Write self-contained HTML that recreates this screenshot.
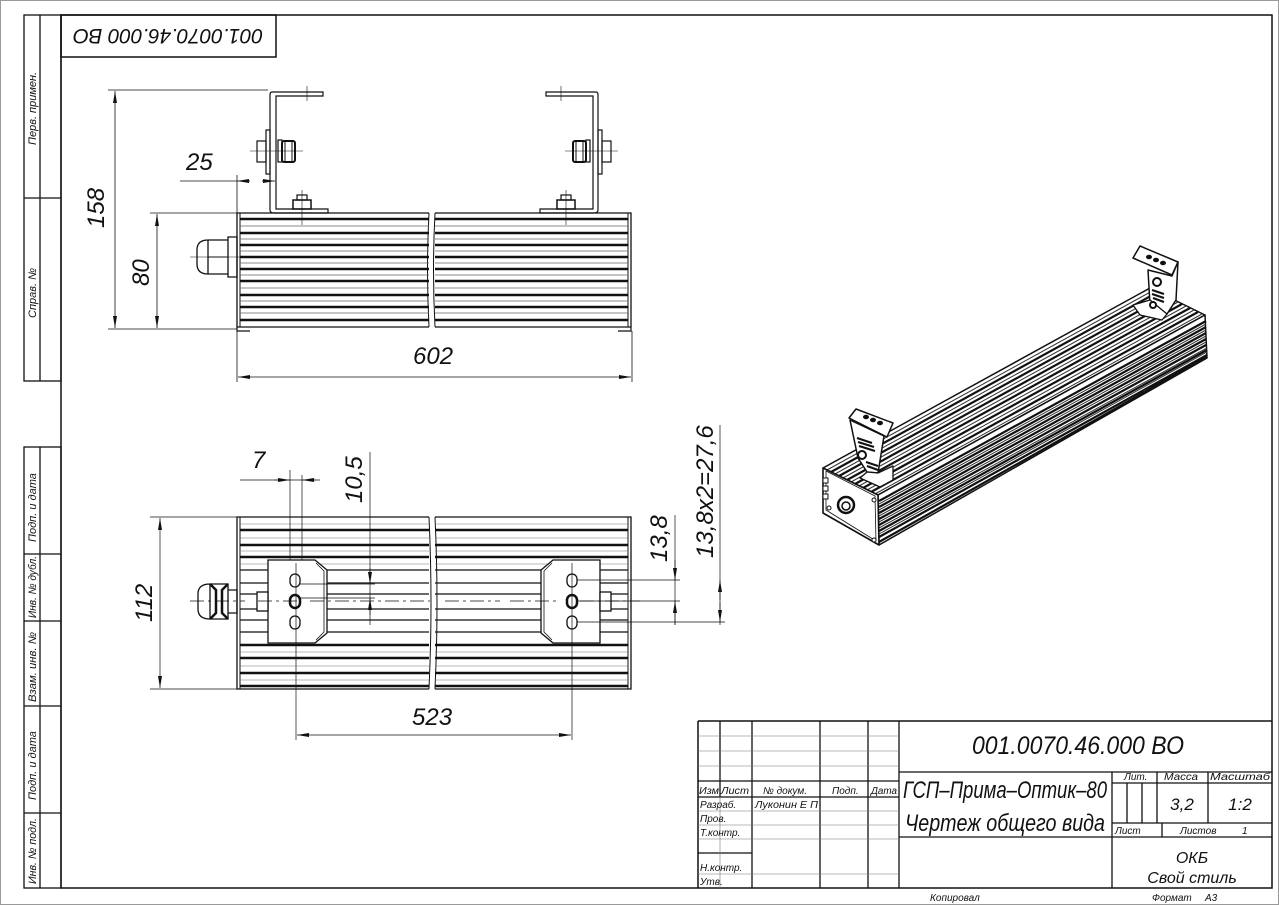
<!DOCTYPE html>
<html><head><meta charset="utf-8"><style>
html,body{margin:0;padding:0;background:#fff;}
svg{display:block;}
text{font-family:"Liberation Sans","DejaVu Sans",sans-serif;font-style:italic;fill:#111;}
</style></head><body>
<svg width="1279" height="905" viewBox="0 0 1279 905" xmlns="http://www.w3.org/2000/svg">
<defs>
<marker id="a" viewBox="0 0 12 4" refX="12" refY="2" markerWidth="12" markerHeight="4" orient="auto-start-reverse" markerUnits="userSpaceOnUse"><path d="M0,0 L12,2 L0,4 z" fill="#111"/></marker>
</defs>
<rect x="0.5" y="0.5" width="1278" height="904" fill="none" stroke="#999" stroke-width="1"/>
<rect x="61" y="15" width="1211" height="873" fill="none" stroke="#111" stroke-width="1.5"/>
<rect x="61" y="15" width="215" height="42" fill="none" stroke="#111" stroke-width="1.5"/>
<text x="168" y="36" font-size="21" text-anchor="middle" transform="rotate(180 168 36)" dy="7" textLength="190" lengthAdjust="spacingAndGlyphs">001.0070.46.000 ВО</text>
<g fill="none" stroke="#111" stroke-width="1.3">
<rect x="24" y="15" width="37" height="366"/><line x1="40" y1="15" x2="40" y2="381"/><line x1="24" y1="198" x2="61" y2="198"/>
<rect x="24" y="447" width="37" height="441"/><line x1="40" y1="447" x2="40" y2="888"/>
<line x1="24" y1="554" x2="61" y2="554"/><line x1="24" y1="621" x2="61" y2="621"/><line x1="24" y1="706" x2="61" y2="706"/><line x1="24" y1="813" x2="61" y2="813"/>
</g>
<g font-size="11">
<text transform="translate(36 145) rotate(-90)">Перв. примен.</text>
<text transform="translate(36 318) rotate(-90)">Справ. №</text>
<text transform="translate(36 542) rotate(-90)">Подп. и дата</text>
<text transform="translate(36 618) rotate(-90)" textLength="62" lengthAdjust="spacingAndGlyphs">Инв. № дубл.</text>
<text transform="translate(36 702) rotate(-90)" textLength="70" lengthAdjust="spacingAndGlyphs">Взам. инв. №</text>
<text transform="translate(36 800) rotate(-90)">Подп. и дата</text>
<text transform="translate(36 884) rotate(-90)" textLength="66" lengthAdjust="spacingAndGlyphs">Инв. № подл.</text>
</g>

<!-- ===== Top (side) view ===== -->
<g stroke="#111" fill="none">
<path d="M429,213 H237 V327 H429 M435,213 H631 V327 H435" stroke-width="1.3"/>
<path d="M429,213 q-3,57 0,114 M435,213 q-3,57 0,114" stroke-width="1"/>
<line x1="240" y1="213" x2="240" y2="327" stroke-width="1"/><line x1="628" y1="213" x2="628" y2="327" stroke-width="1"/>
<g stroke-width="2.6">
<path d="M240,219H429M435,219H628M240,233H429M435,233H628M240,245H429M435,245H628M240,257H429M435,257H628M240,269H429M435,269H628M240,281H429M435,281H628M240,295H429M435,295H628M240,307H429M435,307H628M240,320H429M435,320H628"/>
</g>
<g stroke-width="0.7" stroke="#666">
<path d="M240,226H429M435,226H628M240,239H429M435,239H628M240,251H429M435,251H628M240,263H429M435,263H628M240,275H429M435,275H628M240,288H429M435,288H628M240,301H429M435,301H628M240,313H429M435,313H628"/>
</g>
<path d="M237,327 v4 h13 M618,331 h13 v-4" stroke-width="1.2"/>
<path d="M228,237 h9 v40 h-9 z M208,240 h20 v34 h-20 z M208,240 q-11,0 -11,10 v14 q0,10 11,10" stroke-width="1.3"/>
<line x1="208" y1="257" x2="228" y2="257" stroke-width="1"/>
<line x1="190" y1="257" x2="245" y2="257" stroke-width="0.6"/>
<path d="M323,92 H272 Q270,92 270,95 V210 Q270,213 274,213 H328 V209 H276 V96 H323 Z" stroke-width="1.2"/>
<rect x="266" y="130" width="4" height="44" stroke-width="1.2"/>
<rect x="257" y="141" width="9" height="21" stroke-width="1.2"/>
<rect x="278" y="140" width="4" height="22" stroke-width="1.2"/>
<rect x="282" y="141" width="13" height="21" rx="2" stroke-width="2"/>
<path d="M285,141v21M292,141v21" stroke-width="1"/>
<rect x="293" y="200" width="18" height="9" stroke-width="1.5"/><rect x="297" y="195" width="10" height="5" stroke-width="1.2"/>
<path d="M250,151H303M302,190V225M307,86V101" stroke-width="0.6"/>
<path d="M546,92 H596 Q598,92 598,95 V210 Q598,213 594,213 H540 V209 H593 V96 H546 Z" stroke-width="1.2"/>
<rect x="598" y="130" width="4" height="44" stroke-width="1.2"/>
<rect x="602" y="141" width="9" height="21" stroke-width="1.2"/>
<rect x="586" y="140" width="4" height="22" stroke-width="1.2"/>
<rect x="573" y="141" width="13" height="21" rx="2" stroke-width="2"/>
<path d="M576,141v21M583,141v21" stroke-width="1"/>
<rect x="557" y="200" width="18" height="9" stroke-width="1.5"/><rect x="561" y="195" width="10" height="5" stroke-width="1.2"/>
<path d="M565,151H618M566,190V225M561,86V101" stroke-width="0.6"/>
</g>
<g stroke="#111" stroke-width="0.8" fill="none">
<path d="M108,90H268M108,329H237M150,213H237M237,331V382M632,331V382"/>
<line x1="115" y1="91" x2="115" y2="328" marker-start="url(#a)" marker-end="url(#a)"/>
<line x1="157" y1="214" x2="157" y2="328" marker-start="url(#a)" marker-end="url(#a)"/>
<line x1="238" y1="377" x2="631" y2="377" marker-start="url(#a)" marker-end="url(#a)"/>
<line x1="180" y1="181" x2="237" y2="181"/><line x1="237" y1="175" x2="237" y2="213"/>
<line x1="250" y1="181" x2="237" y2="181" marker-end="url(#a)"/><line x1="262" y1="181" x2="275" y2="181" marker-end="url(#a)"/>
</g>
<g font-size="24">
<text x="186" y="170">25</text>
<text transform="translate(104 228) rotate(-90)">158</text>
<text transform="translate(149 286) rotate(-90)">80</text>
<text x="413" y="364">602</text>
</g>

<!-- ===== Bottom view ===== -->
<g stroke="#111" fill="none">
<path d="M429,517 H237 V689 H429 M435,517 H631 V689 H435" stroke-width="1.3"/>
<path d="M429,517 q4,86 0,172 M435,517 q4,86 0,172" stroke-width="1"/>
<line x1="240" y1="517" x2="240" y2="689" stroke-width="1"/><line x1="628" y1="517" x2="628" y2="689" stroke-width="1"/>
<g stroke-width="2.4">
<path d="M240,530H429M435,530H628M240,545H429M435,545H628M240,557H429M435,557H628M240,645H429M435,645H628M240,658H429M435,658H628M240,673H429M435,673H628M240,686H429M435,686H628"/>
</g>
<g stroke-width="1.3">
<path d="M240,570H429M435,570H628M240,583H429M435,583H628M240,594H429M435,594H628M240,609H429M435,609H628M240,620H429M435,620H628M240,632H429M435,632H628"/>
</g>
<g stroke-width="0.6" stroke="#777">
<path d="M240,524H429M435,524H628M240,538H429M435,538H628M240,551H429M435,551H628M240,564H429M435,564H628M240,652H429M435,652H628M240,666H429M435,666H628M240,680H429M435,680H628"/>
</g>
<path d="M268,560 H315 L327,570 V633 L315,643 H268 Z" fill="#fff" stroke-width="1.3"/>
<path d="M316,563 L324,571 V632 L316,640" stroke-width="0.8"/>
<path d="M600,560 H553 L541,570 V633 L553,643 H600 Z" fill="#fff" stroke-width="1.3"/>
<path d="M552,563 L544,571 V632 L552,640" stroke-width="0.8"/>
<g stroke-width="1.3" fill="#fff">
<rect x="290" y="574" width="10" height="13" rx="5"/><rect x="290" y="595" width="10" height="13" rx="5" stroke-width="2.5"/><rect x="290" y="616" width="10" height="13" rx="5"/>
<rect x="567" y="574" width="10" height="13" rx="5"/><rect x="567" y="595" width="10" height="13" rx="5" stroke-width="2.5"/><rect x="567" y="616" width="10" height="13" rx="5"/>
<rect x="257" y="592" width="11" height="19"/><rect x="600" y="592" width="11" height="19"/>
</g>
<path d="M228,590 h9 v23 h-9 z M210,584 h18 v35 h-18 z M210,584 q-12,0 -12,10 v15 q0,10 12,10" stroke-width="1.3"/>
<path d="M210,584 l6,6 v23 l-6,6 M228,584 l-6,6 v23 l6,6" stroke-width="2.5"/>
</g>
<g stroke="#111" stroke-width="0.7" fill="none">
<path d="M150,517H237M150,689H237M296,563V740M572,563V740"/>
<path d="M190,601H245M258,601H300M310,601H430M445,601H500M510,601H560M580,601H640" stroke-dasharray="14 4 3 4"/>
<line x1="160" y1="518" x2="160" y2="688" marker-start="url(#a)" marker-end="url(#a)"/>
<line x1="297" y1="735" x2="571" y2="735" marker-start="url(#a)" marker-end="url(#a)"/>
<path d="M290,470V560M302,475V560M240,480H320"/>
<line x1="275" y1="480" x2="290" y2="480" marker-end="url(#a)"/><line x1="316" y1="480" x2="302" y2="480" marker-end="url(#a)"/>
<path d="M370,452V625M300,584H375M300,598H375"/>
<line x1="370" y1="568" x2="370" y2="584" marker-end="url(#a)"/><line x1="370" y1="615" x2="370" y2="598" marker-end="url(#a)"/>
<path d="M577,580H680M577,601H680M577,622H725M675,515V625M720,425V625"/>
<line x1="675" y1="560" x2="675" y2="580" marker-end="url(#a)"/><line x1="675" y1="625" x2="675" y2="601" marker-end="url(#a)"/>
<line x1="720" y1="600" x2="720" y2="580" marker-end="url(#a)"/><line x1="720" y1="602" x2="720" y2="622" marker-end="url(#a)"/>
</g>
<g font-size="24">
<text transform="translate(152 622) rotate(-90)">112</text>
<text x="412" y="725">523</text>
<text x="252" y="468">7</text>
<text transform="translate(362 503) rotate(-90)">10,5</text>
<text transform="translate(667 562) rotate(-90)">13,8</text>
<text transform="translate(713 558) rotate(-90)">13,8x2=27,6</text>
</g>

<!-- ===== 3D view ===== -->
<g stroke="#111" fill="#fff" stroke-linejoin="round">
<polygon points="823,468 878,495 1205,315 1150,288" stroke-width="1.5"/>
<polygon points="878,495 879,545 1207,358 1205,315" stroke-width="1.5"/>
<g stroke-width="2.2">
<path d="M831,472 L1158,292 M839,476 L1166,296 M847,480 L1174,300 M855,484 L1182,304 M863,488 L1190,308 M871,492 L1198,312"/>
<path d="M879,501 L1206,321 M879,507 L1206,327 M879,513 L1206,333 M879,519 L1206,339 M879,525 L1206,345 M879,531 L1207,350 M879,537 L1207,355 M879,542 L1207,357"/>
</g>
<g stroke-width="1" stroke="#333">
<path d="M827,470 L1154,290 M835,474 L1162,294 M843,478 L1170,298 M851,482 L1178,302 M859,486 L1186,306 M867,490 L1194,310 M875,494 L1202,314 M879,504 L1206,324 M879,510 L1206,330 M879,516 L1206,336 M879,522 L1206,342 M879,528 L1207,348 M879,534 L1207,352"/>
</g>
<polygon points="823,468 878,495 879,545 823,513" stroke-width="1.6"/>
<polygon points="826,471 875,496 876,541 826,510" fill="none" stroke-width="0.8"/>
<circle cx="846" cy="505" r="8" stroke-width="2.5"/><circle cx="846" cy="506" r="4" stroke-width="1.5"/>
<rect x="823" y="478" width="5" height="5" stroke-width="1"/><rect x="823" y="486" width="5" height="5" stroke-width="1"/><rect x="823" y="494" width="5" height="5" stroke-width="1"/>
<circle cx="829" cy="508" r="2" stroke-width="1"/><circle cx="874" cy="540" r="2" stroke-width="1"/><circle cx="874" cy="500" r="2" stroke-width="1"/>
<polygon points="849,418 856,409 893,423 887,437" stroke-width="1.5"/>
<polygon points="850,420 884,436 878,473 867,472 858,458" stroke-width="1.5"/>
<polygon points="867,472 878,473 893,466 893,480 880,487 860,478" stroke-width="1.3"/>
<circle cx="862" cy="455" r="4" stroke-width="2"/>
<g fill="none" stroke-width="2"><path d="M857,438 l15,5 M858,442 l16,5 M859,446 l16,5 M866,462 l12,4 M867,466 l11,4"/></g>
<g fill="#111"><ellipse cx="866" cy="417" rx="2.5" ry="1.8"/><ellipse cx="873" cy="420" rx="2.5" ry="1.8"/><ellipse cx="880" cy="423" rx="2.5" ry="1.8"/></g>
<polygon points="1133,258 1140,246 1178,262 1172,275" stroke-width="1.5"/>
<polygon points="1148,270 1172,276 1178,262 1176,300 1167,314 1150,305" stroke-width="1.5"/>
<polygon points="1133,305 1150,300 1167,314 1162,320 1140,315" stroke-width="1.3"/>
<circle cx="1157" cy="282" r="4" stroke-width="2"/><circle cx="1153" cy="305" r="3" stroke-width="2"/>
<g fill="none" stroke-width="2"><path d="M1152,290 l12,4 M1152,294 l12,4 M1153,298 l11,4"/></g>
<g fill="#111"><ellipse cx="1149" cy="257" rx="2.5" ry="1.8"/><ellipse cx="1156" cy="260" rx="2.5" ry="1.8"/><ellipse cx="1163" cy="263" rx="2.5" ry="1.8"/></g>
</g>

<!-- ===== Title block ===== -->
<g stroke="#111" fill="none">
<path d="M698,721 H1272 M698,721 V888" stroke-width="1.5"/>
<g stroke-width="1.3">
<path d="M720,721V797M752,721V888M820,721V888M868,721V888M899,721V888"/>
<path d="M698,781H899M698,797H899M698,853H752"/>
<path d="M899,772H1272M899,837H1272M1112,772V888M1112,783H1272M1112,823H1272M1157,772V823M1208,772V823M1127,783V823M1142,783V823M1162,823V837"/>
</g>
<g stroke-width="0.6" stroke="#777">
<path d="M698,736H899M698,751H899M698,766H899M698,811H899M698,825H899M698,839H899M698,874H899M720,797V888"/>
</g>
</g>
<g font-size="10">
<text x="699" y="794" textLength="20" lengthAdjust="spacingAndGlyphs">Изм</text><text x="721" y="794" textLength="28" lengthAdjust="spacingAndGlyphs">Лист</text><text x="763" y="794">№ докум.</text><text x="832" y="794">Подп.</text><text x="871" y="794" textLength="26" lengthAdjust="spacingAndGlyphs">Дата</text>
<text x="700" y="808">Разраб.</text><text x="755" y="808" textLength="63" lengthAdjust="spacingAndGlyphs">Луконин Е П</text>
<text x="700" y="822">Пров.</text>
<text x="700" y="836">Т.контр.</text>
<text x="700" y="871">Н.контр.</text>
<text x="700" y="885">Утв.</text>
<text x="1124" y="780">Лит.</text><text x="1164" y="780" textLength="34" lengthAdjust="spacingAndGlyphs">Масса</text><text x="1210" y="780" textLength="60" lengthAdjust="spacingAndGlyphs">Масштаб</text>
<text x="1115" y="834">Лист</text><text x="1180" y="834">Листов</text><text x="1242" y="834">1</text>
<text x="930" y="901">Копировал</text><text x="1152" y="901">Формат</text><text x="1205" y="901">А3</text>
</g>
<text x="972" y="754" font-size="25" textLength="212" lengthAdjust="spacingAndGlyphs">001.0070.46.000 ВО</text>
<text x="903" y="798" font-size="24" textLength="204" lengthAdjust="spacingAndGlyphs">ГСП–Прима–Оптик–80</text>
<text x="905" y="831" font-size="24" textLength="200" lengthAdjust="spacingAndGlyphs">Чертеж общего вида</text>
<text x="1182" y="810" font-size="17" text-anchor="middle">3,2</text>
<text x="1240" y="810" font-size="17" text-anchor="middle">1:2</text>
<text x="1192" y="863" font-size="16" text-anchor="middle">ОКБ</text>
<text x="1192" y="883" font-size="16" text-anchor="middle">Свой стиль</text>
</svg>
</body></html>
